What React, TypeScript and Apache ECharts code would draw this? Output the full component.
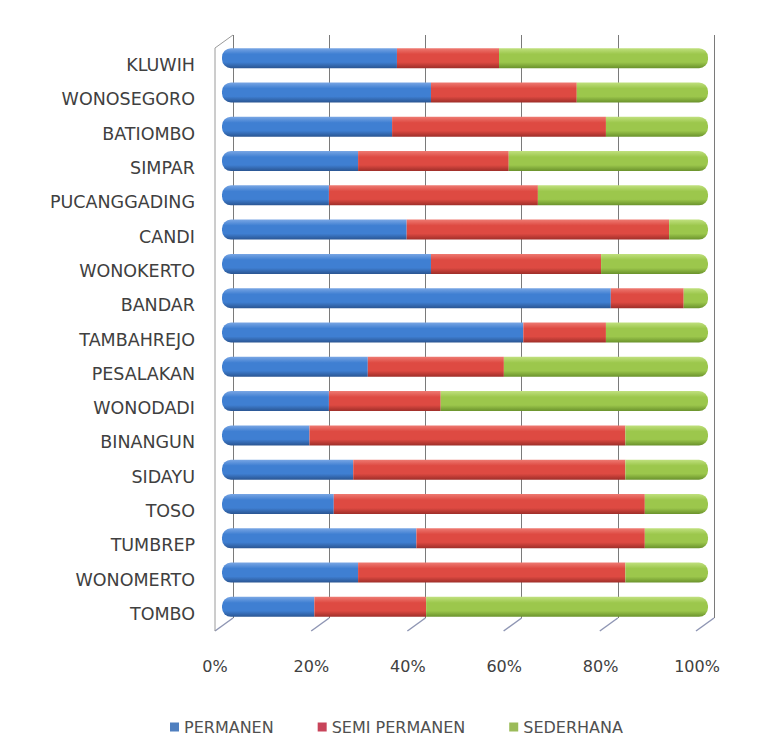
import React, { useEffect, useRef } from "react";
import * as echarts from "echarts";

const categories = [
  "KLUWIH", "WONOSEGORO", "BATIOMBO", "SIMPAR", "PUCANGGADING", "CANDI",
  "WONOKERTO", "BANDAR", "TAMBAHREJO", "PESALAKAN", "WONODADI", "BINANGUN",
  "SIDAYU", "TOSO", "TUMBREP", "WONOMERTO", "TOMBO",
];
const permanen = [36, 43, 35, 28, 22, 38, 43, 80, 62, 30, 22, 18, 27, 23, 40, 28, 19];
const semiPermanen = [21, 30, 44, 31, 43, 54, 35, 15, 17, 28, 23, 65, 56, 64, 47, 55, 23];
const sederhana = [43, 27, 21, 41, 35, 8, 22, 5, 21, 42, 55, 17, 17, 13, 13, 17, 58];
const tickValues = [0, 20, 40, 60, 80, 100];
const seriesNames = ["PERMANEN", "SEMI PERMANEN", "SEDERHANA"];

const FONT = "DejaVu Sans";

function grad(top: string, mid: string, bottom: string) {
  return new echarts.graphic.LinearGradient(0, 0, 0, 1, [
    { offset: 0, color: top },
    { offset: 0.3, color: mid },
    { offset: 0.7, color: mid },
    { offset: 1, color: bottom },
  ]);
}

export default function App() {
  const ref = useRef<HTMLDivElement>(null);
  useEffect(() => {
    document.body.style.margin = "0";
    if (!ref.current) return;
    const chart = echarts.init(ref.current, null, { renderer: "svg" });
    const DX = -18;
    const DY = 13;
    const option: any = {
      animation: false,
      backgroundColor: "#ffffff",
      grid: [
        { left: 222, width: 486, top: 41, height: 583, outerBoundsMode: "none" },
        { left: 215, width: 482, top: 48, height: 583, outerBoundsMode: "none" },
        { left: 233, width: 481, top: 35, height: 583, outerBoundsMode: "none" },
      ],
      xAxis: [
        { gridIndex: 0, type: "value", min: 0, max: 100, show: false },
        {
          gridIndex: 1, type: "value", min: 0, max: 100, interval: 20,
          axisLine: { show: false }, axisTick: { show: false }, splitLine: { show: false },
          axisLabel: { formatter: "{value}%", margin: 27, fontFamily: FONT, fontSize: 16, color: "#404040" },
        },
        {
          gridIndex: 2, type: "value", min: 0, max: 100, interval: 20,
          axisLine: { show: false }, axisTick: { show: false }, axisLabel: { show: false },
          splitLine: { show: true, lineStyle: { color: "#7a7a7a", width: 1 } },
        },
      ],
      yAxis: [
        { gridIndex: 0, type: "category", data: categories, inverse: true, show: false },
        {
          gridIndex: 1, type: "category", data: categories, inverse: true,
          axisLine: { show: false }, axisTick: { show: false }, splitLine: { show: false },
          axisLabel: { margin: 20, fontFamily: FONT, fontSize: 17.5, color: "#404040" },
        },
        { gridIndex: 2, type: "value", min: 0, max: 1, show: false },
      ],
      legend: {
        left: 165,
        top: 714,
        icon: "rect",
        itemWidth: 9,
        itemHeight: 9,
        itemGap: 44,
        textStyle: { fontFamily: FONT, fontSize: 16, color: "#505050" },
        data: [
          { name: seriesNames[0], itemStyle: { color: "#4f7fbf" } },
          { name: seriesNames[1], itemStyle: { color: "#c8445a" } },
          { name: seriesNames[2], itemStyle: { color: "#9bbb59" } },
        ],
      },
      series: [
        {
          type: "custom",
          xAxisIndex: 2,
          yAxisIndex: 2,
          silent: true,
          data: tickValues.map((v) => [v]),
          renderItem: (params: any, api: any) => {
            const v = api.value(0);
            const b = api.coord([v, 0]);
            const children: any[] = [
              {
                type: "line",
                shape: { x1: b[0], y1: b[1], x2: b[0] + DX, y2: b[1] + DY },
                style: { stroke: "#8f96b4", lineWidth: 1.5 },
              },
            ];
            if (v === 0) {
              const t = api.coord([0, 1]);
              children.push({
                type: "line",
                shape: { x1: t[0], y1: t[1], x2: t[0] + DX, y2: t[1] + DY },
                style: { stroke: "#9a9a9a", lineWidth: 1 },
              });
              children.push({
                type: "line",
                shape: { x1: t[0] + DX, y1: t[1] + DY, x2: b[0] + DX, y2: b[1] + DY },
                style: { stroke: "#9a9a9a", lineWidth: 1 },
              });
            }
            return { type: "group", children };
          },
        },
        {
          name: seriesNames[0],
          type: "bar",
          stack: "total",
          xAxisIndex: 0,
          yAxisIndex: 0,
          barWidth: 20,
          data: permanen,
          itemStyle: { color: grad("#79a6e4", "#3f7fd2", "#2a5592"), borderRadius: [9, 0, 0, 9] },
        },
        {
          name: seriesNames[1],
          type: "bar",
          stack: "total",
          xAxisIndex: 0,
          yAxisIndex: 0,
          barWidth: 20,
          data: semiPermanen,
          itemStyle: { color: grad("#ee7a72", "#de4a42", "#9e2e29") },
        },
        {
          name: seriesNames[2],
          type: "bar",
          stack: "total",
          xAxisIndex: 0,
          yAxisIndex: 0,
          barWidth: 20,
          data: sederhana,
          itemStyle: { color: grad("#c0e07e", "#9cc74c", "#6a922c"), borderRadius: [0, 9, 9, 0] },
        },
      ],
    };
    chart.setOption(option);
    return () => chart.dispose();
  }, []);
  return <div ref={ref} style={{ width: 762, height: 743 }} />;
}
